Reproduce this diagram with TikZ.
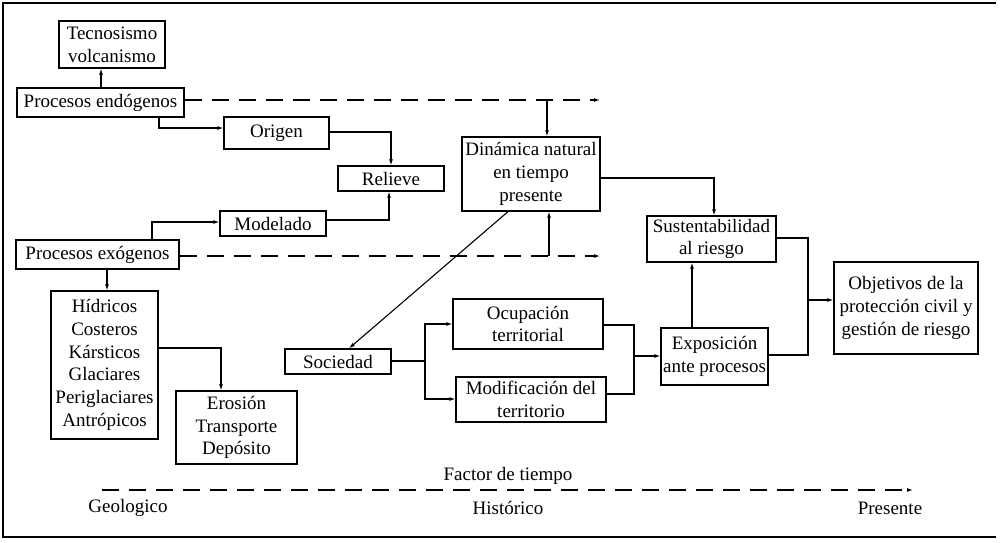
\documentclass[tikz,border=0pt]{standalone}
\usepackage{fontspec}
\setmainfont{Liberation Serif}
\usetikzlibrary{arrows.meta}
\begin{document}
\begin{tikzpicture}[x=1pt,y=-1pt]
    \tikzset{box/.style = {draw,line width=1.3pt,align=center,inner sep=0pt,
        font=\rmfamily\fontsize{19}{22.8}\selectfont}}
    \tikzset{arr/.style = {-{Latex[length=6pt,width=4pt]},line width=1.1pt}}
    \tikzset{line/.style = {line width=1.1pt}}
    \tikzset{timeline/.style = {arr,dash pattern=on 17pt off 10pt}}
    \tikzset{label/.style = {font=\rmfamily\fontsize{19}{22.8}\selectfont}}
    \useasboundingbox (0,0) rectangle (1000,542);
    \draw[line width=2pt] (996,3) -- (3,3) -- (3,537) -- (996,537);
    % natural processes
    \node[box,minimum width=106pt,minimum height=47pt] (tecno) at (112,44.5) {Tecnosismo\\volcanismo};
    \node[box,minimum width=167pt,minimum height=29pt] (endo) at (100.5,102.5) {Procesos endógenos};
    \node[box,minimum width=105pt,minimum height=32pt] (origen) at (276.5,133) {Origen};
    \node[box,minimum width=106pt,minimum height=25pt] (relieve) at (391,178.5) {Relieve};
    \node[box,minimum width=106pt,minimum height=25pt] (modelado) at (273,223.5) {Modelado};
    \node[box,minimum width=163pt,minimum height=29pt] (exo) at (97.5,254.5) {Procesos exógenos};
    \node[box,minimum width=107pt,minimum height=148pt] (hidricos) at (104.5,365) {Hídricos\\Costeros\\Kársticos\\Glaciares\\Periglaciares\\Antrópicos};
    \node[box,minimum width=121pt,minimum height=73pt] (erosion) at (236.5,427.5) {Erosión\\Transporte\\Depósito};
    \node[box,minimum width=138pt,minimum height=74pt] (dinamica) at (531,174) {Dinámica natural\\en tiempo\\presente};
    % society
    \node[box,minimum width=106pt,minimum height=25pt] (sociedad) at (338,361.5) {Sociedad};
    \node[box,minimum width=150pt,minimum height=50pt] (ocupacion) at (528,324) {Ocupación\\territorial};
    \node[box,minimum width=150pt,minimum height=45pt] (modif) at (531,399.5) {Modificación del\\territorio};
    \node[box,minimum width=107pt,minimum height=57pt] (exposicion) at (714.5,356.5) {Exposición\\ante procesos};
    \node[box,minimum width=129pt,minimum height=46pt] (sustent) at (711.5,239) {Sustentabilidad\\al riesgo};
    \node[box,minimum width=144pt,minimum height=92pt] (objetivos) at (906,308) {Objetivos de la\\protección civil y\\gestión de riesgo};
    % time axis
    \node[label] (factor) at (508,476) {Factor de tiempo};
    \node[label] (geo) at (128,508) {Geologico};
    \node[label] (hist) at (508,508) {Histórico};
    \node[label] (pres) at (890,508) {Presente};
    \coordinate (t0) at (102,490);
    \coordinate (t1) at (913,490);
    \draw[timeline] (t0) -- (t1);
    % connectors
    \coordinate (d1) at (600,100);
    \coordinate (d2) at (600,256);
    \coordinate (d1x) at (547,100);
    \coordinate (d2x) at (549,256);
    \draw[arr] (endo.north -| 101,0) -- (tecno.south -| 101,0);
    \draw[timeline] (endo.east |- d1) -- (d1);
    \draw[arr] (d1x) -- (d1x |- dinamica.north);
    \draw[arr] (endo.south -| 159,0) |- (origen.west |- 0,128);
    \draw[arr] (origen.east |- 0,132) -| (relieve.north);
    \draw[arr] (modelado.east |- 0,220) -| (relieve.south -| 389,0);
    \draw[arr] (exo.north -| 152,0) |- (modelado.west |- 0,222);
    \draw[timeline] (exo.east |- d2) -- (d2);
    \draw[arr] (d2x) -- (d2x |- dinamica.south);
    \draw[arr] (exo.south -| 107,0) -- (hidricos.north -| 107,0);
    \draw[arr] (hidricos.east |- 0,348) -| (erosion.north -| 221,0);
    \draw[arr] (dinamica.south -| 508,0) -- (sociedad.north -| 349,0);
    \coordinate (split) at (425,361);
    \draw[line] (sociedad.east |- split) -- (split);
    \draw[arr] (split) |- (ocupacion.west |- 0,324);
    \draw[arr] (split) |- (modif.west |- 0,399);
    \coordinate (join) at (634,356);
    \draw[line] (ocupacion.east |- 0,325) -| (join);
    \draw[line] (modif.east |- 0,394) -| (join);
    \draw[arr] (join) -- (exposicion.west |- join);
    \draw[arr] (exposicion.north -| 692,0) -- (sustent.south -| 692,0);
    \draw[arr] (dinamica.east |- 0,178) -| (sustent.north -| 714,0);
    \coordinate (merge) at (808,300);
    \draw[line] (sustent.east |- 0,238) -| (merge);
    \draw[line] (exposicion.east |- 0,355) -| (merge);
    \draw[arr] (merge) -- (objetivos.west |- merge);
\end{tikzpicture}
\end{document}
